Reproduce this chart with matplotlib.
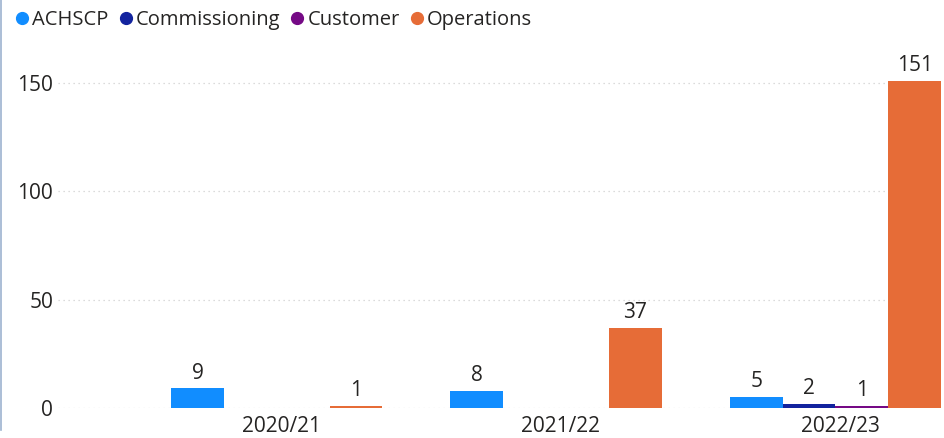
import numpy as np
import matplotlib.pyplot as plt
from matplotlib.lines import Line2D

# data
years = ['2020/21', '2021/22', '2022/23']
series = ['ACHSCP', 'Commissioning', 'Customer', 'Operations']
achscp = [9, 8, 5]
commissioning = [None, None, 2]
customer = [None, None, 1]
operations = [1, 37, 151]
colors = ['#118DFF', '#12239E', '#750985', '#E66C37']

plt.rcParams['font.family'] = ['Open Sans', 'DejaVu Sans']

fig = plt.figure(figsize=(9.45, 4.38), dpi=100)
ax = fig.add_axes([58 / 945, (438 - 408) / 438, (943 - 58) / 945, (408 - 45) / 438])

x = np.arange(len(years))
w = 0.189
values = [achscp, commissioning, customer, operations]
for i, (name, vals, c) in enumerate(zip(series, values, colors)):
    pos = x + (i - 1.5) * w
    for xp, v in zip(pos, vals):
        if v is None:
            continue
        ax.bar(xp, v, width=w, color=c, zorder=3)
        ax.text(xp, v + 2.2, str(v), ha='center', va='bottom', fontsize=15, color='#252423')

ax.set_xlim(-0.783, 2.385)
ax.set_ylim(0, 167.5)
ax.set_yticks([0, 50, 100, 150])
ax.set_xticks(x + 0.017)
ax.set_xticklabels(years)
ax.tick_params(axis='both', length=0, labelsize=15, labelcolor='#252423')
ax.tick_params(axis='y', pad=3.5)
ax.tick_params(axis='x', pad=5.5)
ax.grid(axis='y', color='#D0D0D0', linestyle=(0, (1, 3)), linewidth=0.9, zorder=0)
for s in ax.spines.values():
    s.set_visible(False)

handles = [Line2D([], [], marker='o', linestyle='none', color=c, markersize=8.5) for c in colors]
fig.legend(handles, series, loc='upper left', bbox_to_anchor=(4 / 945, 0.995), ncol=4,
           frameon=False, fontsize=14.5, handletextpad=0.0, columnspacing=0.35,
           handlelength=1.0, borderaxespad=0.0, labelcolor='#252423')

# left border of the visual
fig.add_artist(Line2D([1.5 / 945, 1.5 / 945], [8 / 438, 1.0], transform=fig.transFigure,
                      color='#9DB3CF', linewidth=1.2))

fig.savefig('out.png', dpi=100)
